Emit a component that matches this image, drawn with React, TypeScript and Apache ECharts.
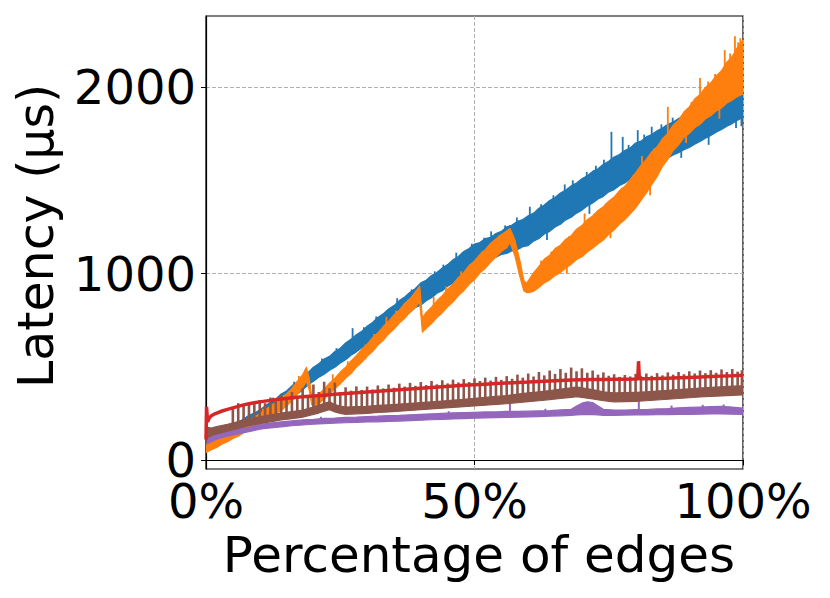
import React, { useEffect, useRef } from "react";
import * as echarts from "echarts";

// ---------- axis ticks ----------
const xTicks = [0, 50, 100];
const yTicks = [0, 1000, 2000];

// ---------- blue band (percentage of edges, latency µs) ----------
const blueX = [0,1,2,3,4,5,6,7,8,9,10,11,12,13,14,15,16,17,18,19,20,21,22,23,24,25,26,27,28,29,30,31,32,33,34,35,36,37,38,39,40,41,42,43,44,45,46,47,48,49,50,51,52,53,54,55,56,57,58,59,60,61,62,63,64,65,66,67,68,69,70,71,72,73,74,75,76,77,78,79,80,81,82,83,84,85,86,87,88,89,90,91,92,93,94,95,96,97,98,99,100];
const blueHi = [92,108,131,146,170,186,204,220,240,252,268,290,310,328,354,370,398,418,448,468,498,516,542,556,582,600,628,648,672,690,718,738,764,784,810,828,855,874,900,920,950,964,990,1006,1030,1048,1074,1092,1118,1134,1158,1166,1188,1194,1215,1226,1250,1260,1280,1290,1310,1324,1350,1368,1392,1408,1432,1448,1470,1486,1508,1524,1548,1562,1586,1602,1625,1638,1660,1674,1700,1710,1733,1746,1766,1780,1800,1812,1832,1842,1862,1872,1892,1904,1924,1936,1955,1964,1984,1994,2012];
const blueLo = [48,66,82,101,116,138,148,168,180,198,212,234,248,272,288,312,328,354,376,402,422,444,460,482,498,520,538,562,580,602,620,646,664,688,706,732,748,774,792,818,830,854,870,894,908,932,950,974,992,1018,1038,1056,1064,1080,1088,1102,1108,1122,1128,1144,1150,1174,1188,1212,1226,1250,1264,1288,1302,1324,1340,1362,1378,1400,1414,1438,1450,1472,1486,1508,1522,1542,1556,1576,1590,1606,1620,1636,1648,1664,1676,1694,1708,1726,1740,1758,1772,1790,1804,1822,1838];
const blueSpikes = [[27.3,620,707],[46.6,1040,1112],[53.1,1150,1226],[60.3,1260,1358],[66.8,1380,1478],[75.5,1560,1760],[77.6,1590,1733],[80.4,1650,1769],[83.0,1700,1787],[89.2,1790,1872],
  [12.5,290,335],[16.4,360,420],[21.6,480,545],[24.3,520,600],[29.4,640,712],[31.7,700,770],[35.6,780,868],[38.3,840,915],[42.6,920,1012],[44.2,960,1048],[49.5,1060,1160],[51.8,1100,1192],[55.7,1160,1258],[57.9,1200,1300],[62.4,1280,1372],[64.7,1320,1420],[68.3,1400,1500],[70.9,1440,1545],[72.6,1480,1578],[74.1,1520,1610],[78.7,1600,1690],[81.6,1660,1745],[84.8,1720,1800],[86.9,1760,1836],[91.5,1840,1900],[94.3,1880,1950],[97.2,1920,1990],[99.4,1960,2035],
  [63.5,1180,1260],[71.4,1320,1400],[79.2,1470,1540],[88.5,1620,1690],[93.6,1690,1760],[98.7,1780,1850],[99.7,1790,1860]];

// ---------- orange band ----------
const orangeX = [0,1,2,3,4,5,6,7,8,9,10,11,12,13,14,15,16,17,18,18.7,19.2,19.7,20.3,21,22,23,24,25,26,27,28,29,30,31,32,33,34,35,36,37,38,39,39.8,40.3,41,42,43,44,45,46,47,48,49,50,51,52,53,54,55,56,56.6,57.5,58.5,59.2,59.7,60.5,61,62,63,64,65,66,67,68,69,70,71,72,73,74,75,76,77,78,79,80,81,82,83,84,85,86,87,88,89,90,91,92,93,94,95,96,97,98,99,100];
const orangeHi = [85,100,114,132,146,164,178,196,212,232,248,270,288,310,330,356,384,422,458,497,440,342,336,354,380,412,438,472,498,532,560,594,620,656,682,716,744,778,804,840,866,902,932,762,792,820,854,882,916,944,978,1006,1042,1068,1102,1128,1162,1186,1210,1228,1242,1182,1064,962,948,982,1004,1038,1078,1098,1134,1152,1184,1203,1238,1258,1288,1308,1338,1358,1388,1410,1444,1468,1504,1540,1580,1612,1652,1680,1722,1752,1796,1822,1866,1894,1936,1960,1998,2022,2060,2088,2134,2164,2214,2252];
const orangeLo = [40,56,68,86,98,116,128,146,160,178,192,212,228,248,266,290,318,352,390,422,378,296,288,302,328,352,384,408,440,464,498,524,556,582,616,642,676,702,734,760,794,818,848,686,706,732,764,790,822,848,882,908,942,968,1002,1028,1062,1088,1118,1138,1168,1098,978,906,898,900,905,925,950,965,990,1005,1030,1050,1075,1090,1115,1135,1160,1180,1210,1235,1265,1290,1320,1352,1392,1432,1476,1520,1574,1612,1660,1690,1730,1752,1782,1800,1830,1846,1872,1888,1914,1930,1950,1962];
const orangeSpikes = [[33.6,700,768],[47.5,940,1012],[70.5,1200,1322],[81.2,1500,1630],[86.0,1700,1894],[92.0,1900,2048],[96.6,2050,2198],[98.5,2100,2273],[99.5,2150,2262],
  [5.5,140,180],[10.6,230,275],[14.5,300,350],[17.3,400,450],[23.6,410,460],[26.4,470,530],[29.7,540,620],[31.3,600,676],[35.4,720,800],[37.7,790,860],[42.4,800,876],[44.7,850,930],[49.2,960,1050],[51.4,1030,1118],[54.6,1110,1205],[62.4,980,1070],[64.3,1030,1118],[67.6,1100,1200],[72.3,1220,1322],[74.5,1280,1378],[77.4,1350,1460],[79.6,1420,1530],[83.4,1580,1670],[85.2,1640,1730],[88.6,1760,1850],[90.4,1830,1920],[93.5,1950,2030],[94.8,2000,2070],[97.6,2100,2180],[99.1,2150,2240],
  [67.2,1000,1070],[75.3,1190,1250],[82.7,1420,1500],[89.4,1700,1760],[95.6,1830,1890]];

// ---------- red line ----------
const redX = [0,0.1,0.3,0.6,1,1.5,2,3,4,5,6,7,8,9,10,12,14,16,18,20,22,24,26,28,30,32,34,36,38,40,42,44,46,48,50,52,54,56,58,60,62,64,66,68,70,72,74,76,78,80,80.4,80.55,80.7,82,84,86,88,90,92,94,96,98,100];
const redY = [110,285,205,225,238,246,252,263,272,280,288,296,302,307,312,320,327,334,339,344,348,353,357,361,365,369,373,377,381,385,389,393,397,401,404,407,410,413,416,418,421,424,427,429,431,432,432,433,433,434,435,530,436,436,437,439,441,443,445,448,450,452,455];

// ---------- purple band ----------
const purpleX = [0,2,4,6,8,10,12,14,16,18,20,22,24,26,28,30,32,34,36,38,40,42,44,46,48,50,52,54,56,58,60,62,64,66,68,69,70,71,72,73,74,76,78,80,82,84,86,88,90,92,94,96,98,100];
const purpleHi = [125,146,158,167,176,191,198,205,210,215,218,223,225,229,230,233,235,239,240,243,245,248,250,253,255,256,258,258,261,261,262,264,265,269,272,290,305,312,308,290,272,268,268,270,271,274,276,280,282,284,286,288,284,278];
const purpleLo = [85,112,128,140,152,165,172,178,184,188,192,195,198,200,202,204,205,207,209,211,214,216,218,220,222,224,226,228,229,230,231,233,235,237,240,242,244,245,244,242,240,240,241,242,242,243,244,245,245,246,247,247,246,245];
const purpleSpikes = [[56.6,240,306],[80.6,250,327],[21.4,200,232],[45.2,230,262],[92.5,250,296],[63.2,240,275],[86.7,250,292],[96.4,252,298]];

// ---------- brown band + comb ----------
const brownX = [0,0.3,1,2,4,6,8,10,12,14,16,18,20,21,22,23,24,25,26,28,30,32,34,36,38,40,42,44,46,48,50,52,54,56,58,60,62,64,66,68,69,70,72,74,76,78,80,82,84,86,88,90,92,94,96,98,100];
const brownHi = [250,175,172,180,192,206,222,232,242,252,260,268,284,294,304,312,298,290,284,286,288,293,296,300,304,308,312,316,321,326,331,336,341,346,353,360,366,373,380,387,392,387,378,366,360,361,363,366,370,374,378,382,386,390,393,396,398];
const brownLo = [90,120,132,140,155,170,185,195,205,215,222,230,245,252,262,270,258,250,245,248,250,255,258,262,266,270,274,278,282,286,290,294,298,302,308,313,318,324,330,336,340,336,328,318,312,313,315,318,322,326,330,334,338,341,344,347,349];
const brownSpikes = [[5,195,285],[6,198,305],[7,204,290],[8,210,310],[9,214,300],[10,218,322],[11,222,305],[12,226,335],[13,230,315],[14,236,350],[15,238,325],[16,242,365],[17,246,340],[18,250,385],[19,255,345],[20,266,405],[21,280,365],[22,288,420],[23,292,385],[24,278,415],[25,270,365],[26,266,390],[27,268,372],[28,270,395],[29,272,376],[30,272,394],[31,274,378],[32,278,400],[33,280,384],[34,282,405],[35,284,388],[36,286,410],[37,288,394],[38,290,414],[39,292,398],[40,294,418],[41,296,402],[42,298,424],[43,300,406],[44,304,428],[45,306,411],[46,308,431],[47,312,416],[48,314,434],[49,316,418],[50,318,438],[51,322,424],[52,324,442],[53,326,426],[54,328,446],[55,332,430],[56,334,450],[57,338,436],[58,340,458],[59,344,442],[60,346,464],[61,350,448],[62,352,472],[63,356,454],[64,358,480],[65,362,462],[66,364,488],[67,368,468],[68,372,496],[69,374,476],[70,372,492],[71,366,468],[72,362,480],[73,356,458],[74,352,470],[75,346,452],[76,346,460],[77,346,446],[78,348,456],[79,350,448],[80,350,462],[81,352,450],[82,354,464],[83,356,452],[84,358,466],[85,360,454],[86,362,470],[87,364,458],[88,366,472],[89,368,460],[90,370,476],[91,372,464],[92,374,480],[93,376,466],[94,378,482],[95,380,468],[96,382,486],[97,384,472],[98,386,488],[99,388,474],[99.8,388,482]];

const C_BLUE = "#1f77b4";
const C_ORANGE = "#ff7f0e";
const C_RED = "#d62728";
const C_PURPLE = "#9467bd";
const C_BROWN = "#8c564b";
const FONT = "DejaVu Sans";

function bandSeries(name: string, color: string, xs: number[], lo: number[], hi: number[]) {
  return {
    type: "custom",
    name,
    z: 2,
    coordinateSystem: "cartesian2d",
    clip: true,
    silent: true,
    data: xs.map((x, i) => [x, lo[i], hi[i]]),
    encode: { x: 0, y: [1, 2] },
    renderItem: (params: any, api: any) => {
      if (params.dataIndex !== 0) return null;
      const pts: number[][] = [];
      for (let i = 0; i < xs.length; i++) pts.push(api.coord([xs[i], hi[i]]));
      for (let i = xs.length - 1; i >= 0; i--) pts.push(api.coord([xs[i], lo[i]]));
      return {
        type: "polygon",
        shape: { points: pts },
        style: { fill: color, stroke: color, lineWidth: 1.2, lineJoin: "round" },
      };
    },
  };
}

function spikeSeries(name: string, color: string, items: number[][], width: number) {
  return {
    type: "custom",
    name,
    z: 2,
    coordinateSystem: "cartesian2d",
    clip: true,
    silent: true,
    data: items,
    encode: { x: 0, y: [1, 2] },
    renderItem: (params: any, api: any) => {
      const a = api.coord([api.value(0), api.value(1)]);
      const b = api.coord([api.value(0), api.value(2)]);
      return {
        type: "line",
        shape: { x1: a[0], y1: a[1], x2: b[0], y2: b[1] },
        style: { stroke: color, lineWidth: width },
      };
    },
  };
}

export default function App() {
  const ref = useRef<HTMLDivElement>(null);
  useEffect(() => {
    if (!ref.current) return;
    const chart = echarts.init(ref.current, undefined, { renderer: "svg" });
    const labelStyle = { fontFamily: FONT, fontSize: 48, color: "#000" };
    chart.setOption({
      animation: false,
      backgroundColor: "#fff",
      grid: {
        left: 206, right: 87, top: 16, bottom: 129,
        show: true, borderColor: "#000", borderWidth: 1.2, backgroundColor: "transparent",
      },
      xAxis: {
        type: "value", min: 0, max: 100, interval: 50,
        axisLine: { show: true, lineStyle: { color: "#000", width: 1.2 } },
        axisTick: { show: true, inside: false, length: 5, lineStyle: { color: "#000", width: 1 }, customValues: xTicks },
        axisLabel: { ...labelStyle, margin: 8, formatter: (v: number) => String(v) + "%", customValues: xTicks },
        splitLine: { show: true, lineStyle: { color: "#b0b0b0", width: 1, type: [4, 2] } },
      },
      yAxis: {
        type: "value", min: -48, max: 2381,
        axisLine: { show: true, lineStyle: { color: "#000", width: 1.2 } },
        axisTick: { show: true, inside: false, length: 5, lineStyle: { color: "#000", width: 1 }, customValues: yTicks },
        axisLabel: { ...labelStyle, margin: 10, formatter: (v: number) => String(v), customValues: yTicks },
        splitLine: { show: true, lineStyle: { color: "#b0b0b0", width: 1, type: [4, 2] } },
      },
      graphic: [
        {
          type: "text", x: 479, y: 555, silent: true,
          style: { text: "Percentage of edges", fontFamily: FONT, fontSize: 50, fill: "#000", align: "center", verticalAlign: "middle" },
        },
        {
          type: "text", x: 36, y: 236, rotation: Math.PI / 2, silent: true,
          style: { text: "Latency (μs)", fontFamily: FONT, fontSize: 49, fill: "#000", align: "center", verticalAlign: "middle" },
        },
      ],
      series: [
        bandSeries("blue", C_BLUE, blueX, blueLo, blueHi),
        spikeSeries("blueSpikes", C_BLUE, blueSpikes, 1.8),
        bandSeries("orange", C_ORANGE, orangeX, orangeLo, orangeHi),
        spikeSeries("orangeSpikes", C_ORANGE, orangeSpikes, 1.8),
        {
          type: "line", name: "red", z: 2, data: redX.map((x, i) => [x, redY[i]]),
          showSymbol: false, symbol: "none", silent: true,
          lineStyle: { color: C_RED, width: 3.5 },
        },
        bandSeries("purple", C_PURPLE, purpleX, purpleLo, purpleHi),
        spikeSeries("purpleSpikes", C_PURPLE, purpleSpikes, 2),
        bandSeries("brown", C_BROWN, brownX, brownLo, brownHi),
        spikeSeries("brownSpikes", C_BROWN, brownSpikes, 2.6),
      ],
    });
    return () => chart.dispose();
  }, []);
  return <div ref={ref} style={{ position: "fixed", left: 0, top: 0, width: 830, height: 598 }} />;
}
